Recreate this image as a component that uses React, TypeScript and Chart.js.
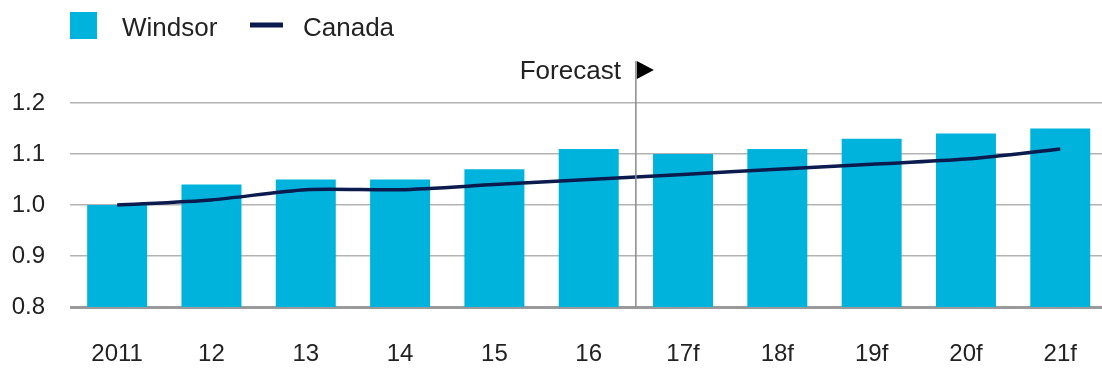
import React, { useEffect, useRef } from "react";
import { Chart, registerables } from "chart.js";

Chart.register(...registerables);

const categories = ["2011", "12", "13", "14", "15", "16", "17f", "18f", "19f", "20f", "21f"];
const windsorValues = [1.0, 1.04, 1.05, 1.05, 1.07, 1.11, 1.1, 1.11, 1.13, 1.14, 1.15];
const canadaValues = [1.0, 1.01, 1.03, 1.03, 1.04, 1.05, 1.06, 1.07, 1.08, 1.09, 1.11];
const yTicks = [0.8, 0.9, 1.0, 1.1, 1.2];
const forecastAfterIndex = 5;
const forecastLabel = "Forecast";

const FONT = '"Liberation Sans", Arial, Helvetica, sans-serif';
const BAR_COLOR = "#00b3dc";
const LINE_COLOR = "#0b1b4d";
const TEXT_COLOR = "#222222";

const overlayPlugin = {
  id: "overlay",
  afterDraw(chart: any) {
    const { ctx, chartArea, scales } = chart;
    const x = scales.x;
    // Forecast divider
    const fx = (x.getPixelForValue(forecastAfterIndex) + x.getPixelForValue(forecastAfterIndex + 1)) / 2;
    ctx.save();
    ctx.strokeStyle = "#8a8a8a";
    ctx.lineWidth = 1.5;
    ctx.beginPath();
    ctx.moveTo(fx, 61);
    ctx.lineTo(fx, chartArea.bottom);
    ctx.stroke();
    ctx.fillStyle = "#000";
    ctx.beginPath();
    ctx.moveTo(fx + 1, 61);
    ctx.lineTo(fx + 18, 70);
    ctx.lineTo(fx + 1, 79);
    ctx.closePath();
    ctx.fill();
    ctx.font = `26px ${FONT}`;
    ctx.fillStyle = TEXT_COLOR;
    ctx.textAlign = "right";
    ctx.textBaseline = "alphabetic";
    ctx.fillText(forecastLabel, fx - 15, 79);

    // Legend
    const ds = chart.data.datasets;
    const bar = ds.find((d: any) => d.type === "bar");
    const line = ds.find((d: any) => d.type === "line");
    ctx.fillStyle = bar.backgroundColor;
    ctx.fillRect(70, 12, 27, 27);
    ctx.textAlign = "left";
    ctx.fillStyle = TEXT_COLOR;
    ctx.fillText(bar.label, 122, 36);
    ctx.strokeStyle = line.borderColor;
    ctx.lineWidth = 5;
    ctx.beginPath();
    ctx.moveTo(250, 25);
    ctx.lineTo(283, 25);
    ctx.stroke();
    ctx.fillText(line.label, 303, 36);
    ctx.restore();
  },
};

export default function App() {
  const canvasRef = useRef<HTMLCanvasElement | null>(null);

  useEffect(() => {
    if (!canvasRef.current) return;
    const chart = new Chart(canvasRef.current, {
      type: "bar",
      data: {
        labels: categories,
        datasets: [
          {
            type: "bar",
            label: "Windsor",
            data: windsorValues,
            backgroundColor: BAR_COLOR,
            categoryPercentage: 1,
            barPercentage: 0.636,
            order: 1,
          },
          {
            type: "line",
            label: "Canada",
            data: canadaValues,
            borderColor: LINE_COLOR,
            backgroundColor: LINE_COLOR,
            borderWidth: 3.5,
            pointRadius: 0,
            tension: 0.25,
            order: 0,
          } as any,
        ],
      },
      options: {
        responsive: false,
        animation: false,
        devicePixelRatio: 1,
        layout: { padding: { top: 103, right: 1, left: 0, bottom: 0 } },
        plugins: {
          legend: { display: false },
          tooltip: { enabled: false },
        },
        scales: {
          x: {
            grid: { display: false, drawTicks: false },
            border: { display: false },
            ticks: {
              color: TEXT_COLOR,
              font: { family: FONT, size: 24 },
              padding: 33,
              maxRotation: 0,
            },
            afterFit(scale: any) {
              scale.height = 62;
            },
          },
          y: {
            min: 0.8,
            max: 1.2,
            afterBuildTicks(scale: any) {
              scale.ticks = yTicks.map((v) => ({ value: v }));
            },
            grid: {
              drawTicks: false,
              color: (c: any) => (c.tick && Math.abs(c.tick.value - 0.8) < 1e-6 ? "#9a9a9a" : "#b3b3b3"),
              lineWidth: (c: any) => (c.tick && Math.abs(c.tick.value - 0.8) < 1e-6 ? 3 : 1.5),
            },
            border: { display: false },
            ticks: {
              color: TEXT_COLOR,
              font: { family: FONT, size: 24 },
              padding: 25,
              callback: (v: any) => Number(v).toFixed(1),
            },
            afterFit(scale: any) {
              scale.width = 70;
            },
          },
        },
      },
      plugins: [overlayPlugin],
    });
    return () => chart.destroy();
  }, []);

  return (
    <div style={{ position: "fixed", left: 0, top: 0, width: 1102, height: 369, overflow: "hidden", background: "#fff" }}>
      <canvas ref={canvasRef} width={1110} height={369} style={{ width: 1110, height: 369 }} />
    </div>
  );
}
